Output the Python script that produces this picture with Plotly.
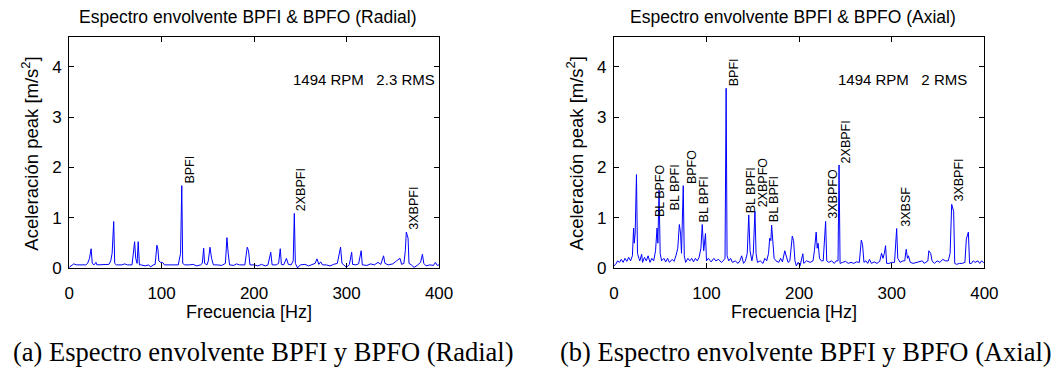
import plotly.graph_objects as go

# Envelope spectrum, radial direction (frequency in Hz, peak acceleration in m/s^2)
freq_radial = [
    0, 2, 5, 8, 12, 18, 20, 22, 23.8, 25, 27, 29, 30, 38, 43, 45, 46.5, 48.2, 49.3, 51,
    57, 60, 63, 68, 70.8, 72, 73.5, 74.7, 76, 78, 82, 86, 88, 91, 93, 94.9, 96, 97, 99, 101,
    103, 110, 118, 120.5, 121.8, 122.8, 125, 130, 134, 138, 142, 144, 145.5, 146.5, 149, 150.5,
    152.3, 154, 156, 160, 165, 169, 170.6, 172, 173.5, 178, 181, 184, 190, 192.6, 194, 195.5,
    200, 204, 208, 212, 215, 218, 219.5, 224, 226.5, 228.3, 229.5, 232, 235, 237, 240, 242.3,
    243.5, 244.6, 247, 250, 255, 259, 263, 266, 268, 270, 272, 274, 278, 282, 286, 290, 293.5,
    295, 297, 300, 303, 305.5, 306.5, 310, 313, 315.8, 317, 322, 326, 330, 334, 337, 340,
    341.5, 345, 350, 354, 357.8, 359.5, 362, 363.5, 364.6, 366.5, 367.5, 370, 373, 377, 380,
    382, 383.5, 386, 390, 394, 396, 398, 400,
]
amp_radial = [
    0.02, 0.05, 0.09, 0.07, 0.07, 0.07, 0.10, 0.20, 0.39, 0.10, 0.07, 0.12, 0.07, 0.07, 0.08, 0.15, 0.30, 0.93, 0.10, 0.07,
    0.07, 0.09, 0.07, 0.07, 0.53, 0.20, 0.10, 0.53, 0.07, 0.07, 0.05, 0.07, 0.03, 0.07, 0.08, 0.46, 0.38, 0.15, 0.12, 0.12,
    0.07, 0.07, 0.07, 0.30, 1.64, 0.10, 0.07, 0.07, 0.08, 0.05, 0.07, 0.10, 0.40, 0.10, 0.07, 0.15,
    0.42, 0.20, 0.07, 0.07, 0.06, 0.10, 0.61, 0.30, 0.07, 0.06, 0.09, 0.07, 0.07, 0.42, 0.35, 0.07,
    0.07, 0.05, 0.08, 0.05, 0.07, 0.32, 0.07, 0.07, 0.10, 0.39, 0.08, 0.07, 0.20, 0.08, 0.07, 0.15,
    1.09, 0.10, 0.01, 0.07, 0.08, 0.05, 0.08, 0.10, 0.19, 0.08, 0.13, 0.07, 0.07, 0.05, 0.08, 0.10, 0.42,
    0.10, 0.07, 0.02, 0.08, 0.32, 0.08, 0.07, 0.09, 0.35, 0.07, 0.06, 0.09, 0.07, 0.12, 0.08, 0.25,
    0.10, 0.07, 0.09, 0.15, 0.20, 0.08, 0.10, 0.35, 0.72, 0.60, 0.10, 0.07, 0.02, 0.07, 0.12,
    0.28, 0.10, 0.05, 0.07, 0.06, 0.12, 0.06, 0.07,
]

# Envelope spectrum, axial direction
freq_axial = [
    0, 2, 4, 6, 8, 10, 12, 14, 16, 18, 20, 21.3, 22, 23, 24.4, 25.5, 27, 28, 30, 31, 33, 35,
    37, 39, 41, 43, 45, 46.6, 47.5, 48.8, 50, 51.5, 54, 56, 58, 60, 63, 65, 67, 69, 70.7, 72,
    73, 74.9, 76, 77.5, 80, 82, 84, 86, 88, 90, 92, 94, 95.4, 97, 98.9, 100, 102, 105, 108,
    110, 113, 116, 118, 120, 121.2, 122.2, 124, 126, 128, 131, 134, 136, 138, 140, 142, 144,
    145.6, 147, 149, 150.5, 152.3, 153.5, 155, 158, 161, 163, 165, 167, 168.2, 169.5, 170.3,
    171.5, 173, 175, 178, 180, 182, 184.5, 186, 188, 190, 192.6, 194, 195.5, 197, 199, 201,
    204, 205, 208, 212, 215, 216.5, 218.4, 219.5, 220.5, 222, 224, 226, 227.5, 228.6, 229.8,
    232, 235, 238, 240, 242, 243.1, 244.2, 247, 250, 253, 256, 259, 262, 265, 267.1, 268.5,
    270, 272, 274, 276, 278, 281, 284, 287, 289, 290.5, 292, 293.3, 294.5, 297, 300, 303,
    304.2, 305.3, 306.5, 309, 312, 314, 315.6, 317, 318, 320, 323, 327, 330, 333, 335, 337,
    339, 340, 342, 343.5, 346, 349, 352, 355, 358, 361, 363, 364.7, 366.8, 368, 370, 373,
    376, 379, 380.5, 382.7, 384, 386, 388, 390, 393, 395, 397, 399, 400,
]
amp_axial = [
    0.05, 0.08, 0.15, 0.12, 0.18, 0.12, 0.20, 0.14, 0.22, 0.15, 0.25, 0.80, 0.50, 0.70, 1.86, 0.30, 0.20, 0.15, 0.28, 0.12, 0.22, 0.15,
    0.25, 0.12, 0.20, 0.15, 0.35, 0.80, 0.50, 1.55, 0.30, 0.15, 0.20, 0.13, 0.20, 0.12, 0.18, 0.14, 0.25, 0.40, 0.87, 0.70,
    0.30, 1.64, 0.25, 0.12, 0.20, 0.15, 0.20, 0.13, 0.20, 0.15, 0.22, 0.40, 0.87, 0.35, 0.69, 0.15, 0.20, 0.13, 0.20,
    0.15, 0.18, 0.12, 0.15, 0.20, 3.57, 0.25, 0.15, 0.20, 0.12, 0.15, 0.10, 0.15, 0.25, 0.10, 0.15, 0.30,
    1.06, 0.35, 0.15, 0.30, 1.13, 0.30, 0.12, 0.15, 0.10, 0.20, 0.15, 0.30, 0.60, 0.55, 0.86,
    0.50, 0.20, 0.15, 0.12, 0.20, 0.13, 0.35, 0.25, 0.12, 0.15, 0.64, 0.55, 0.15, 0.05, 0.12, 0.05,
    0.29, 0.10, 0.15, 0.12, 0.15, 0.35, 0.72, 0.40, 0.50, 0.20, 0.15, 0.15, 0.50, 0.93, 0.15,
    0.12, 0.15, 0.10, 0.15, 0.15, 2.05, 0.10, 0.12, 0.14, 0.10, 0.12, 0.10, 0.13, 0.12, 0.56, 0.47,
    0.12, 0.15, 0.10, 0.18, 0.10, 0.13, 0.10, 0.14, 0.30, 0.20, 0.30, 0.45, 0.10, 0.10, 0.12, 0.12,
    0.50, 0.79, 0.20, 0.12, 0.15, 0.15, 0.38, 0.20, 0.25, 0.12, 0.10, 0.12, 0.12, 0.15, 0.10, 0.12,
    0.15, 0.35, 0.30, 0.15, 0.10, 0.15, 0.12, 0.18, 0.15, 0.15, 0.30, 1.27, 1.13, 0.10, 0.08, 0.10,
    0.10, 0.12, 0.58, 0.72, 0.10, 0.10, 0.15, 0.12, 0.15, 0.10, 0.15, 0.12, 0.10,
]

# Fault-frequency labels: text, x position (Hz), base height (m/s^2)
labels_radial = ["BPFI", "2XBPFI", "3XBPFI"]
label_freq_radial = [130.6, 251.0, 373.0]
label_amp_radial = [1.64, 1.09, 0.72]

labels_axial = ["BL BPFO", "BL BPFI", "BPFO", "BL BPFI", "BPFI", "BL BPFI", "2XBPFO",
                "BL BPFI", "3XBPFO", "2XBPFI", "3XBSF", "3XBPFI"]
label_freq_axial = [50.5, 66.0, 83.7, 97.2, 129.7, 148.4, 160.4, 172.5, 236.8, 251.6, 314.5, 372.8]
label_amp_axial = [0.98, 1.11, 1.64, 0.87, 3.57, 1.06, 1.18, 0.87, 0.95, 2.05, 0.79, 1.28]

panel_titles = ["Espectro envolvente BPFI & BPFO (Radial)", "Espectro envolvente BPFI & BPFO (Axial)"]
run_info = ["1494 RPM&nbsp;&nbsp;&nbsp;2.3 RMS", "1494 RPM&nbsp;&nbsp;&nbsp;2 RMS"]
captions = ["(a) Espectro envolvente BPFI y BPFO (Radial)", "(b) Espectro envolvente BPFI y BPFO (Axial)"]
x_ticks = [0, 100, 200, 300, 400]
y_ticks = [0, 1, 2, 3, 4]

W, H = 1058, 379
FONT = "Arial, Liberation Sans, Helvetica, sans-serif"
SERIF = "Times New Roman, Liberation Serif, serif"

# panel boxes in pixels: left, right, top, bottom
boxes = [(65.3, 442.0, 38.3, 275.7), (620.0, 997.3, 38.3, 275.7)]

fig = go.Figure()
fig.add_trace(go.Scatter(x=freq_radial, y=amp_radial, mode="lines",
                         line=dict(color="#0000ff", width=1), xaxis="x", yaxis="y",
                         showlegend=False, hoverinfo="skip"))
fig.add_trace(go.Scatter(x=freq_axial, y=amp_axial, mode="lines",
                         line=dict(color="#0000ff", width=1), xaxis="x2", yaxis="y2",
                         showlegend=False, hoverinfo="skip"))

axis_common = dict(showline=True, linecolor="black", linewidth=1, mirror="ticks",
                   ticks="inside", ticklen=5, tickcolor="black", showgrid=False,
                   zeroline=False, tickfont=dict(family=FONT, size=17, color="black"))

layout = dict(width=W, height=H, margin=dict(l=0, r=0, t=0, b=0),
              paper_bgcolor="white", plot_bgcolor="white", showlegend=False)

annotations = []
for i, (l, r, t, b) in enumerate(boxes):
    sfx = "" if i == 0 else str(i + 1)
    layout["xaxis" + sfx] = dict(axis_common, domain=[l / W, r / W], range=[0, 400],
                                 tickvals=x_ticks, anchor="y" + sfx, ticklabelstandoff=9)
    layout["yaxis" + sfx] = dict(axis_common, domain=[1 - b / H, 1 - t / H], range=[0, 4.58],
                                 tickvals=y_ticks, anchor="x" + sfx, ticklabelstandoff=3)
    cx = (l + r) / 2
    cy = (t + b) / 2
    annotations.append(dict(text=panel_titles[i], xref="paper", yref="paper",
                            x=(cx - 6) / W, y=1 - 17 / H, xanchor="center", yanchor="middle",
                            showarrow=False, font=dict(family=FONT, size=17.5, color="black")))
    annotations.append(dict(text="Frecuencia [Hz]", xref="paper", yref="paper",
                            x=(cx - 5) / W, y=1 - 320 / H, xanchor="center", yanchor="middle",
                            showarrow=False, font=dict(family=FONT, size=18, color="black")))
    annotations.append(dict(text="Aceleración peak [m/s<sup>2</sup>]", xref="paper", yref="paper",
                            x=(l - 40) / W, y=1 - (cy + 1) / H, xanchor="center", yanchor="middle",
                            textangle=-90, showarrow=False,
                            font=dict(family=FONT, size=18.5, color="black")))
    annotations.append(dict(text=run_info[i], xref="x" + sfx, yref="y" + sfx,
                            x=240, y=3.75, xanchor="left", yanchor="middle",
                            showarrow=False, font=dict(family=FONT, size=15, color="black")))

for txt, fx, fy in zip(labels_radial, label_freq_radial, label_amp_radial):
    annotations.append(dict(text=txt, xref="x", yref="y", x=fx, y=fy, textangle=-90,
                            xanchor="center", yanchor="bottom", showarrow=False,
                            font=dict(family=FONT, size=12.5, color="black")))
for txt, fx, fy in zip(labels_axial, label_freq_axial, label_amp_axial):
    annotations.append(dict(text=txt, xref="x2", yref="y2", x=fx, y=fy, textangle=-90,
                            xanchor="center", yanchor="bottom", showarrow=False,
                            font=dict(family=FONT, size=12.5, color="black")))

for cap, left in zip(captions, [6, 563]):
    annotations.append(dict(text=cap, xref="paper", yref="paper", x=left / W, y=1 - 362 / H,
                            xanchor="left", yanchor="middle", showarrow=False,
                            font=dict(family=SERIF, size=26.5, color="black")))

layout["annotations"] = annotations
fig.update_layout(**layout)
fig.write_html("out.html")
